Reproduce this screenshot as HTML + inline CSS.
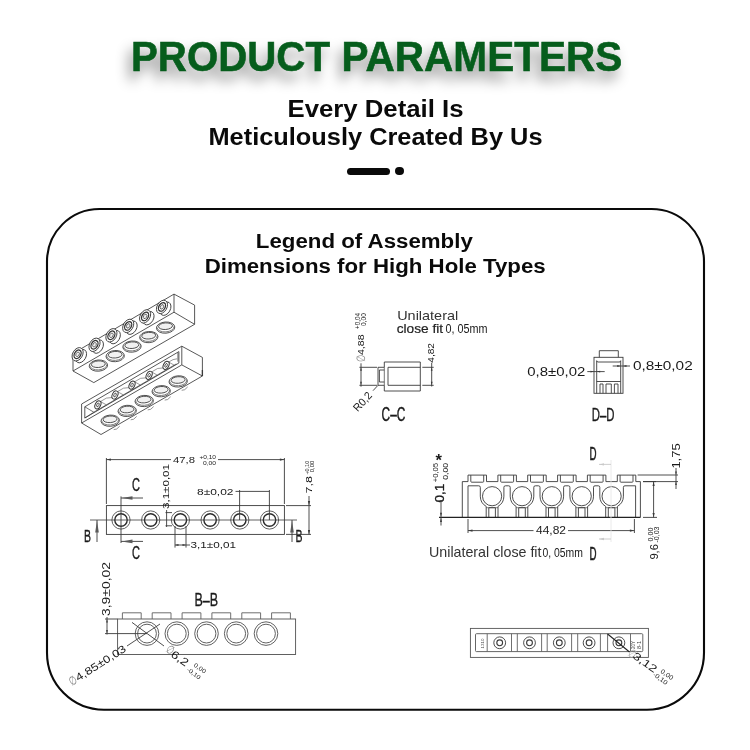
<!DOCTYPE html>
<html><head><meta charset="utf-8">
<style>
html,body{margin:0;padding:0;background:#fff;}
body{width:750px;height:750px;position:relative;overflow:hidden;font-family:"Liberation Sans",sans-serif;}
#dash{position:absolute;left:346.7px;top:167.8px;width:43.2px;height:7px;border-radius:3.5px;background:#0a0a0a;}
#dot{position:absolute;left:395.2px;top:166.8px;width:8.6px;height:8.6px;border-radius:50%;background:#0a0a0a;}
svg{position:absolute;left:0;top:0;will-change:transform;}
</style></head><body>
<div id="dash"></div><div id="dot"></div>
<svg width="750" height="750" viewBox="0 0 750 750" font-family="Liberation Sans, sans-serif">
<path d="M99.5 209 H651.5 A52.5 52.5 0 0 1 704 261.5 V652.8 A57 57 0 0 1 647 709.8 H104 A57 57 0 0 1 47 652.8 V261.5 A52.5 52.5 0 0 1 99.5 209 Z" fill="none" stroke="#0a0a0a" stroke-width="2.1"/>
<g font-weight="bold" fill="#065d1c" stroke="#065d1c" stroke-width="0.6" font-size="42" style="filter:drop-shadow(-4px 9px 6.5px rgba(0,0,0,0.42))">
<text id="w1" x="131" y="71.3" textLength="199" lengthAdjust="spacingAndGlyphs">PRODUCT</text>
<text id="w2" x="341.5" y="71.3" textLength="280.8" lengthAdjust="spacingAndGlyphs">PARAMETERS</text>
</g>
<g font-weight="bold" fill="#0a0a0a">
<text id="t1" x="287.5" y="117" font-size="23" textLength="176" lengthAdjust="spacingAndGlyphs">Every Detail Is</text>
<text id="t2" x="208.5" y="144.8" font-size="23" textLength="334" lengthAdjust="spacingAndGlyphs">Meticulously Created By Us</text>
<text id="t3" x="255.8" y="248" font-size="19.5" textLength="217" lengthAdjust="spacingAndGlyphs">Legend of Assembly</text>
<text id="t4" x="204.7" y="272.5" font-size="19.5" textLength="341" lengthAdjust="spacingAndGlyphs">Dimensions for High Hole Types</text>
</g>
<path d="M73.0 353.5 L174.0 294.1 L194.6 305.1 L194.6 324.3 L93.8 382.6 L73.0 371.0 Z" fill="none" stroke="#3a3a3a" stroke-width="0.85" stroke-linejoin="round"/>
<path d="M174.0 294.1 L174.0 312.2 L73.0 371.0" fill="none" stroke="#3a3a3a" stroke-width="0.85" stroke-linejoin="round"/>
<path d="M174.0 312.2 L194.6 324.3" fill="none" stroke="#3a3a3a" stroke-width="0.85" stroke-linejoin="round"/>
<ellipse cx="81.0" cy="356.1" rx="7.2" ry="4.9" transform="rotate(-60 81.0 356.1)" fill="#fff" stroke="#3a3a3a" stroke-width="0.85"/>
<ellipse cx="77.6" cy="354.3" rx="7.2" ry="4.9" transform="rotate(-60 77.6 354.3)" fill="#fff" stroke="#3a3a3a" stroke-width="0.85"/>
<ellipse cx="77.6" cy="354.3" rx="4.6" ry="3.1" transform="rotate(-60 77.6 354.3)" fill="none" stroke="#333" stroke-width="1.3"/>
<ellipse cx="77.6" cy="354.3" rx="2.4" ry="1.6" transform="rotate(-60 77.6 354.3)" fill="#eee" stroke="#555" stroke-width="0.8"/>
<ellipse cx="97.9" cy="346.6" rx="7.2" ry="4.9" transform="rotate(-60 97.9 346.6)" fill="#fff" stroke="#3a3a3a" stroke-width="0.85"/>
<ellipse cx="94.5" cy="344.8" rx="7.2" ry="4.9" transform="rotate(-60 94.5 344.8)" fill="#fff" stroke="#3a3a3a" stroke-width="0.85"/>
<ellipse cx="94.5" cy="344.8" rx="4.6" ry="3.1" transform="rotate(-60 94.5 344.8)" fill="none" stroke="#333" stroke-width="1.3"/>
<ellipse cx="94.5" cy="344.8" rx="2.4" ry="1.6" transform="rotate(-60 94.5 344.8)" fill="#eee" stroke="#555" stroke-width="0.8"/>
<ellipse cx="114.8" cy="337.1" rx="7.2" ry="4.9" transform="rotate(-60 114.8 337.1)" fill="#fff" stroke="#3a3a3a" stroke-width="0.85"/>
<ellipse cx="111.4" cy="335.3" rx="7.2" ry="4.9" transform="rotate(-60 111.4 335.3)" fill="#fff" stroke="#3a3a3a" stroke-width="0.85"/>
<ellipse cx="111.4" cy="335.3" rx="4.6" ry="3.1" transform="rotate(-60 111.4 335.3)" fill="none" stroke="#333" stroke-width="1.3"/>
<ellipse cx="111.4" cy="335.3" rx="2.4" ry="1.6" transform="rotate(-60 111.4 335.3)" fill="#eee" stroke="#555" stroke-width="0.8"/>
<ellipse cx="131.6" cy="327.7" rx="7.2" ry="4.9" transform="rotate(-60 131.6 327.7)" fill="#fff" stroke="#3a3a3a" stroke-width="0.85"/>
<ellipse cx="128.2" cy="325.9" rx="7.2" ry="4.9" transform="rotate(-60 128.2 325.9)" fill="#fff" stroke="#3a3a3a" stroke-width="0.85"/>
<ellipse cx="128.2" cy="325.9" rx="4.6" ry="3.1" transform="rotate(-60 128.2 325.9)" fill="none" stroke="#333" stroke-width="1.3"/>
<ellipse cx="128.2" cy="325.9" rx="2.4" ry="1.6" transform="rotate(-60 128.2 325.9)" fill="#eee" stroke="#555" stroke-width="0.8"/>
<ellipse cx="148.5" cy="318.2" rx="7.2" ry="4.9" transform="rotate(-60 148.5 318.2)" fill="#fff" stroke="#3a3a3a" stroke-width="0.85"/>
<ellipse cx="145.1" cy="316.4" rx="7.2" ry="4.9" transform="rotate(-60 145.1 316.4)" fill="#fff" stroke="#3a3a3a" stroke-width="0.85"/>
<ellipse cx="145.1" cy="316.4" rx="4.6" ry="3.1" transform="rotate(-60 145.1 316.4)" fill="none" stroke="#333" stroke-width="1.3"/>
<ellipse cx="145.1" cy="316.4" rx="2.4" ry="1.6" transform="rotate(-60 145.1 316.4)" fill="#eee" stroke="#555" stroke-width="0.8"/>
<ellipse cx="165.4" cy="308.7" rx="7.2" ry="4.9" transform="rotate(-60 165.4 308.7)" fill="#fff" stroke="#3a3a3a" stroke-width="0.85"/>
<ellipse cx="162.0" cy="306.9" rx="7.2" ry="4.9" transform="rotate(-60 162.0 306.9)" fill="#fff" stroke="#3a3a3a" stroke-width="0.85"/>
<ellipse cx="162.0" cy="306.9" rx="4.6" ry="3.1" transform="rotate(-60 162.0 306.9)" fill="none" stroke="#333" stroke-width="1.3"/>
<ellipse cx="162.0" cy="306.9" rx="2.4" ry="1.6" transform="rotate(-60 162.0 306.9)" fill="#eee" stroke="#555" stroke-width="0.8"/>
<g transform="rotate(-4 98.4 365.6)"><ellipse cx="98.4" cy="365.6" rx="9.2" ry="5.6" fill="none" stroke="#3a3a3a" stroke-width="0.85"/><path d="M89.9 365.0 A8.5 4.9 0 0 0 106.9 365.0" fill="none" stroke="#555" stroke-width="0.75"/><ellipse cx="98.4" cy="364.2" rx="7.0" ry="3.3" fill="#f1f1f1" stroke="#3a3a3a" stroke-width="0.85"/></g>
<g transform="rotate(-4 115.2 356.1)"><ellipse cx="115.2" cy="356.1" rx="9.2" ry="5.6" fill="none" stroke="#3a3a3a" stroke-width="0.85"/><path d="M106.7 355.5 A8.5 4.9 0 0 0 123.7 355.5" fill="none" stroke="#555" stroke-width="0.75"/><ellipse cx="115.2" cy="354.7" rx="7.0" ry="3.3" fill="#f1f1f1" stroke="#3a3a3a" stroke-width="0.85"/></g>
<g transform="rotate(-4 132.0 346.6)"><ellipse cx="132.0" cy="346.6" rx="9.2" ry="5.6" fill="none" stroke="#3a3a3a" stroke-width="0.85"/><path d="M123.5 346.0 A8.5 4.9 0 0 0 140.5 346.0" fill="none" stroke="#555" stroke-width="0.75"/><ellipse cx="132.0" cy="345.2" rx="7.0" ry="3.3" fill="#f1f1f1" stroke="#3a3a3a" stroke-width="0.85"/></g>
<g transform="rotate(-4 148.8 337.1)"><ellipse cx="148.8" cy="337.1" rx="9.2" ry="5.6" fill="none" stroke="#3a3a3a" stroke-width="0.85"/><path d="M140.3 336.5 A8.5 4.9 0 0 0 157.3 336.5" fill="none" stroke="#555" stroke-width="0.75"/><ellipse cx="148.8" cy="335.7" rx="7.0" ry="3.3" fill="#f1f1f1" stroke="#3a3a3a" stroke-width="0.85"/></g>
<g transform="rotate(-4 165.6 327.6)"><ellipse cx="165.6" cy="327.6" rx="9.2" ry="5.6" fill="none" stroke="#3a3a3a" stroke-width="0.85"/><path d="M157.1 327.0 A8.5 4.9 0 0 0 174.1 327.0" fill="none" stroke="#555" stroke-width="0.75"/><ellipse cx="165.6" cy="326.2" rx="7.0" ry="3.3" fill="#f1f1f1" stroke="#3a3a3a" stroke-width="0.85"/></g>
<path d="M81.6 404.0 L181.8 346.2 L202.4 357.4 L202.4 376.0 L101.0 434.5 L81.6 423.0 Z" fill="none" stroke="#3a3a3a" stroke-width="0.85" stroke-linejoin="round"/>
<path d="M181.8 346.2 L181.8 364.9 L81.6 423.0" fill="none" stroke="#3a3a3a" stroke-width="0.85" stroke-linejoin="round"/>
<path d="M181.8 364.9 L202.4 376.0" fill="none" stroke="#3a3a3a" stroke-width="0.85" stroke-linejoin="round"/>
<path d="M84.8 406.8 L178.9 351.6 L178.9 363.0 L84.8 418.0 Z" fill="none" stroke="#3a3a3a" stroke-width="0.85" stroke-linejoin="round"/>
<path d="M84.8 406.8 L93.8 412.2 L84.8 418.0" fill="none" stroke="#3a3a3a" stroke-width="0.7" stroke-linejoin="round"/>
<path d="M93.8 412.2 L176.3 363.9" fill="none" stroke="#3a3a3a" stroke-width="0.7" stroke-linejoin="round"/>
<path d="M177.9 352.8 L177.9 361.6" fill="none" stroke="#3a3a3a" stroke-width="0.7" stroke-linejoin="round"/>
<path d="M100.5 401.5 Q106.4 396.7 112.3 397.5" fill="none" stroke="#555" stroke-width="0.6" stroke-linejoin="round"/>
<path d="M100.7 401.7 L106.1 404.7" fill="none" stroke="#555" stroke-width="0.6" stroke-linejoin="round"/>
<ellipse cx="97.9" cy="404.9" rx="4.3" ry="2.7" transform="rotate(-65 97.9 404.9)" fill="#fff" stroke="#3a3a3a" stroke-width="1.0"/>
<ellipse cx="97.9" cy="404.9" rx="2.0" ry="1.1" transform="rotate(-65 97.9 404.9)" fill="none" stroke="#3a3a3a" stroke-width="0.8"/>
<path d="M117.5 391.6 Q123.5 386.8 129.3 387.6" fill="none" stroke="#555" stroke-width="0.6" stroke-linejoin="round"/>
<path d="M117.8 391.8 L123.2 394.8" fill="none" stroke="#555" stroke-width="0.6" stroke-linejoin="round"/>
<ellipse cx="115.0" cy="395.0" rx="4.3" ry="2.7" transform="rotate(-65 115.0 395.0)" fill="#fff" stroke="#3a3a3a" stroke-width="1.0"/>
<ellipse cx="115.0" cy="395.0" rx="2.0" ry="1.1" transform="rotate(-65 115.0 395.0)" fill="none" stroke="#3a3a3a" stroke-width="0.8"/>
<path d="M134.6 381.8 Q140.5 376.9 146.4 377.8" fill="none" stroke="#555" stroke-width="0.6" stroke-linejoin="round"/>
<path d="M134.8 381.9 L140.2 384.9" fill="none" stroke="#555" stroke-width="0.6" stroke-linejoin="round"/>
<ellipse cx="132.0" cy="385.1" rx="4.3" ry="2.7" transform="rotate(-65 132.0 385.1)" fill="#fff" stroke="#3a3a3a" stroke-width="1.0"/>
<ellipse cx="132.0" cy="385.1" rx="2.0" ry="1.1" transform="rotate(-65 132.0 385.1)" fill="none" stroke="#3a3a3a" stroke-width="0.8"/>
<path d="M151.7 371.9 Q157.6 367.1 163.5 367.9" fill="none" stroke="#555" stroke-width="0.6" stroke-linejoin="round"/>
<path d="M151.9 372.1 L157.2 375.1" fill="none" stroke="#555" stroke-width="0.6" stroke-linejoin="round"/>
<ellipse cx="149.1" cy="375.3" rx="4.3" ry="2.7" transform="rotate(-65 149.1 375.3)" fill="#fff" stroke="#3a3a3a" stroke-width="1.0"/>
<ellipse cx="149.1" cy="375.3" rx="2.0" ry="1.1" transform="rotate(-65 149.1 375.3)" fill="none" stroke="#3a3a3a" stroke-width="0.8"/>
<path d="M168.7 362.0 Q173.1 358.9 177.1 358.8" fill="none" stroke="#555" stroke-width="0.6" stroke-linejoin="round"/>
<path d="M168.9 362.2 L174.3 365.2" fill="none" stroke="#555" stroke-width="0.6" stroke-linejoin="round"/>
<ellipse cx="166.1" cy="365.4" rx="4.3" ry="2.7" transform="rotate(-65 166.1 365.4)" fill="#fff" stroke="#3a3a3a" stroke-width="1.0"/>
<ellipse cx="166.1" cy="365.4" rx="2.0" ry="1.1" transform="rotate(-65 166.1 365.4)" fill="none" stroke="#3a3a3a" stroke-width="0.8"/>
<g transform="rotate(-4 110.2 420.7)"><ellipse cx="110.2" cy="420.7" rx="9.2" ry="5.6" fill="none" stroke="#3a3a3a" stroke-width="0.85"/><path d="M101.7 420.1 A8.5 4.9 0 0 0 118.7 420.1" fill="none" stroke="#555" stroke-width="0.75"/><ellipse cx="110.2" cy="419.3" rx="7.0" ry="3.3" fill="#f1f1f1" stroke="#3a3a3a" stroke-width="0.85"/></g>
<path d="M113.7 429.6 Q116.7 430.1 119.7 426.2" fill="none" stroke="#777" stroke-width="0.8" stroke-linejoin="round"/>
<g transform="rotate(-4 127.2 410.9)"><ellipse cx="127.2" cy="410.9" rx="9.2" ry="5.6" fill="none" stroke="#3a3a3a" stroke-width="0.85"/><path d="M118.7 410.3 A8.5 4.9 0 0 0 135.7 410.3" fill="none" stroke="#555" stroke-width="0.75"/><ellipse cx="127.2" cy="409.5" rx="7.0" ry="3.3" fill="#f1f1f1" stroke="#3a3a3a" stroke-width="0.85"/></g>
<path d="M130.7 419.8 Q133.7 420.3 136.7 416.4" fill="none" stroke="#777" stroke-width="0.8" stroke-linejoin="round"/>
<g transform="rotate(-4 144.2 401.0)"><ellipse cx="144.2" cy="401.0" rx="9.2" ry="5.6" fill="none" stroke="#3a3a3a" stroke-width="0.85"/><path d="M135.7 400.4 A8.5 4.9 0 0 0 152.7 400.4" fill="none" stroke="#555" stroke-width="0.75"/><ellipse cx="144.2" cy="399.6" rx="7.0" ry="3.3" fill="#f1f1f1" stroke="#3a3a3a" stroke-width="0.85"/></g>
<path d="M147.7 409.9 Q150.7 410.4 153.7 406.5" fill="none" stroke="#777" stroke-width="0.8" stroke-linejoin="round"/>
<g transform="rotate(-4 161.2 391.2)"><ellipse cx="161.2" cy="391.2" rx="9.2" ry="5.6" fill="none" stroke="#3a3a3a" stroke-width="0.85"/><path d="M152.7 390.6 A8.5 4.9 0 0 0 169.7 390.6" fill="none" stroke="#555" stroke-width="0.75"/><ellipse cx="161.2" cy="389.8" rx="7.0" ry="3.3" fill="#f1f1f1" stroke="#3a3a3a" stroke-width="0.85"/></g>
<path d="M164.7 400.1 Q167.7 400.6 170.7 396.7" fill="none" stroke="#777" stroke-width="0.8" stroke-linejoin="round"/>
<g transform="rotate(-4 178.2 381.4)"><ellipse cx="178.2" cy="381.4" rx="9.2" ry="5.6" fill="none" stroke="#3a3a3a" stroke-width="0.85"/><path d="M169.7 380.8 A8.5 4.9 0 0 0 186.7 380.8" fill="none" stroke="#555" stroke-width="0.75"/><ellipse cx="178.2" cy="380.0" rx="7.0" ry="3.3" fill="#f1f1f1" stroke="#3a3a3a" stroke-width="0.85"/></g>
<path d="M181.7 390.3 Q184.7 390.8 187.7 386.9" fill="none" stroke="#777" stroke-width="0.8" stroke-linejoin="round"/>
<line x1="202.4" y1="370.0" x2="202.4" y2="376.0" stroke="#3a3a3a" stroke-width="1.3"/>
<path d="M384.3 362 H420.3 V391 H384.3 V385.3 H378 V367.3 H384.3 Z" fill="none" stroke="#3a3a3a" stroke-width="0.9" stroke-linejoin="round"/>
<path d="M420.3 367.3 H388 V385.3 H420.3" fill="none" stroke="#3a3a3a" stroke-width="0.9" stroke-linejoin="round"/>
<path d="M384.3 370 H379.4 V382 H384.3" fill="none" stroke="#3a3a3a" stroke-width="0.9" stroke-linejoin="round"/>
<line x1="384.3" y1="367.3" x2="384.3" y2="385.3" stroke="#3a3a3a" stroke-width="0.7"/>
<line x1="361.0" y1="363.3" x2="361.0" y2="386.7" stroke="#3a3a3a" stroke-width="0.9"/>
<line x1="359.4" y1="367.3" x2="377.0" y2="367.3" stroke="#3a3a3a" stroke-width="0.9"/>
<line x1="359.4" y1="385.3" x2="377.0" y2="385.3" stroke="#3a3a3a" stroke-width="0.9"/>
<path d="M361.0 367.3 L360.1 370.8 L361.9 370.8 Z" fill="#3a3a3a" stroke="none"/>
<path d="M361.0 385.3 L360.1 381.8 L361.9 381.8 Z" fill="#3a3a3a" stroke="none"/>
<line x1="431.7" y1="362.7" x2="431.7" y2="386.5" stroke="#3a3a3a" stroke-width="0.9"/>
<line x1="422.3" y1="367.3" x2="433.7" y2="367.3" stroke="#3a3a3a" stroke-width="0.9"/>
<line x1="422.3" y1="385.3" x2="433.7" y2="385.3" stroke="#3a3a3a" stroke-width="0.9"/>
<path d="M431.7 367.3 L430.8 370.8 L432.6 370.8 Z" fill="#3a3a3a" stroke="none"/>
<path d="M431.7 385.3 L430.8 381.8 L432.6 381.8 Z" fill="#3a3a3a" stroke="none"/>
<text x="364.6" y="362.3" font-size="12" fill="#888" font-weight="normal" text-anchor="start" textLength="7.0" lengthAdjust="spacingAndGlyphs" transform="rotate(-90 364.6 362.3)">∅</text>
<text x="364.3" y="355.0" font-size="9.8" fill="#1a1a1a" font-weight="normal" text-anchor="start" textLength="20.5" lengthAdjust="spacingAndGlyphs" transform="rotate(-90 364.3 355.0)">4,88</text>
<text x="359.9" y="329.0" font-size="6.3" fill="#1a1a1a" font-weight="normal" text-anchor="start" textLength="16.0" lengthAdjust="spacingAndGlyphs" transform="rotate(-90 359.9 329.0)">+0,04</text>
<text x="366.3" y="326.0" font-size="6.3" fill="#1a1a1a" font-weight="normal" text-anchor="start" textLength="13.0" lengthAdjust="spacingAndGlyphs" transform="rotate(-90 366.3 326.0)">0,00</text>
<text x="434.0" y="362.7" font-size="9" fill="#1a1a1a" font-weight="normal" text-anchor="start" textLength="19.7" lengthAdjust="spacingAndGlyphs" transform="rotate(-90 434.0 362.7)">4,82</text>
<line x1="378.0" y1="385.3" x2="373.0" y2="390.7" stroke="#3a3a3a" stroke-width="0.9"/>
<text x="357.8" y="412.2" font-size="11" fill="#1a1a1a" font-weight="normal" text-anchor="start" textLength="22.0" lengthAdjust="spacingAndGlyphs" transform="rotate(-47 357.8 412.2)">R0,2</text>
<text x="381.6" y="420.7" font-size="19.5" fill="#1a1a1a" font-weight="normal" text-anchor="start" textLength="23.8" lengthAdjust="spacingAndGlyphs" stroke="#1a1a1a" stroke-width="0.4">C–C</text>
<text x="397.2" y="319.5" font-size="13" fill="#333" font-weight="normal" text-anchor="start" textLength="61.0" lengthAdjust="spacingAndGlyphs">Unilateral</text>
<text x="396.7" y="332.6" font-size="13" fill="#222" font-weight="normal" text-anchor="start" textLength="46.4" lengthAdjust="spacingAndGlyphs" stroke="#222" stroke-width="0.2">close fit</text>
<text x="445.6" y="332.6" font-size="12.3" fill="#1a1a1a" font-weight="normal" text-anchor="start" textLength="42.0" lengthAdjust="spacingAndGlyphs">0, 05mm</text>
<rect x="594.0" y="357.3" width="29.0" height="36.0" rx="0" fill="none" stroke="#3a3a3a" stroke-width="0.9"/>
<path d="M599.3 357.3 V350.7 H618.3 V357.3" fill="none" stroke="#3a3a3a" stroke-width="0.9" stroke-linejoin="round"/>
<path d="M596.7 393.3 V360.7 L597.5 362 H619.9 L620.7 360.7 V393.3" fill="none" stroke="#3a3a3a" stroke-width="0.9" stroke-linejoin="round"/>
<line x1="596.7" y1="381.5" x2="620.7" y2="381.5" stroke="#3a3a3a" stroke-width="0.9"/>
<path d="M600 393.3 V384 H603 V393.3" fill="none" stroke="#3a3a3a" stroke-width="0.9" stroke-linejoin="round"/>
<path d="M606 393.3 V384 H611.3 V393.3" fill="none" stroke="#3a3a3a" stroke-width="0.9" stroke-linejoin="round"/>
<path d="M614.4 393.3 V384 H618 V393.3" fill="none" stroke="#3a3a3a" stroke-width="0.9" stroke-linejoin="round"/>
<line x1="587.3" y1="371.6" x2="604.7" y2="371.6" stroke="#3a3a3a" stroke-width="0.9"/>
<path d="M594.0 371.6 L590.5 370.7 L590.5 372.5 Z" fill="#3a3a3a" stroke="none"/>
<path d="M596.7 371.6 L600.2 370.7 L600.2 372.5 Z" fill="#3a3a3a" stroke="none"/>
<line x1="612.7" y1="366.0" x2="630.0" y2="366.0" stroke="#3a3a3a" stroke-width="0.9"/>
<path d="M620.7 366.0 L617.2 365.1 L617.2 366.9 Z" fill="#3a3a3a" stroke="none"/>
<path d="M623.0 366.0 L626.5 365.1 L626.5 366.9 Z" fill="#3a3a3a" stroke="none"/>
<text x="527.3" y="376.0" font-size="12" fill="#1a1a1a" font-weight="normal" text-anchor="start" textLength="58.0" lengthAdjust="spacingAndGlyphs">0,8±0,02</text>
<text x="633.0" y="370.0" font-size="12" fill="#1a1a1a" font-weight="normal" text-anchor="start" textLength="59.7" lengthAdjust="spacingAndGlyphs">0,8±0,02</text>
<text x="591.7" y="420.7" font-size="18.5" fill="#1a1a1a" font-weight="normal" text-anchor="start" textLength="22.7" lengthAdjust="spacingAndGlyphs" stroke="#1a1a1a" stroke-width="0.35">D–D</text>
<rect x="106.4" y="505.6" width="178.0" height="28.8" rx="0" fill="none" stroke="#3a3a3a" stroke-width="0.9"/>
<circle cx="121.0" cy="520.0" r="9.1" fill="none" stroke="#3a3a3a" stroke-width="0.8"/>
<circle cx="121.0" cy="520.0" r="6.2" fill="none" stroke="#2a2a2a" stroke-width="1.4"/>
<circle cx="150.7" cy="520.0" r="9.1" fill="none" stroke="#3a3a3a" stroke-width="0.8"/>
<circle cx="150.7" cy="520.0" r="6.2" fill="none" stroke="#2a2a2a" stroke-width="1.4"/>
<circle cx="180.4" cy="520.0" r="9.1" fill="none" stroke="#3a3a3a" stroke-width="0.8"/>
<circle cx="180.4" cy="520.0" r="6.2" fill="none" stroke="#2a2a2a" stroke-width="1.4"/>
<circle cx="210.1" cy="520.0" r="9.1" fill="none" stroke="#3a3a3a" stroke-width="0.8"/>
<circle cx="210.1" cy="520.0" r="6.2" fill="none" stroke="#2a2a2a" stroke-width="1.4"/>
<circle cx="239.8" cy="520.0" r="9.1" fill="none" stroke="#3a3a3a" stroke-width="0.8"/>
<circle cx="239.8" cy="520.0" r="6.2" fill="none" stroke="#2a2a2a" stroke-width="1.4"/>
<circle cx="269.5" cy="520.0" r="9.1" fill="none" stroke="#3a3a3a" stroke-width="0.8"/>
<circle cx="269.5" cy="520.0" r="6.2" fill="none" stroke="#2a2a2a" stroke-width="1.4"/>
<line x1="90.0" y1="520.0" x2="297.0" y2="520.0" stroke="#3a3a3a" stroke-width="0.8"/>
<line x1="106.4" y1="458.0" x2="106.4" y2="504.0" stroke="#3a3a3a" stroke-width="0.9"/>
<line x1="284.4" y1="458.0" x2="284.4" y2="504.0" stroke="#3a3a3a" stroke-width="0.9"/>
<line x1="106.4" y1="459.6" x2="171.0" y2="459.6" stroke="#3a3a3a" stroke-width="0.9"/>
<line x1="218.0" y1="459.6" x2="284.4" y2="459.6" stroke="#3a3a3a" stroke-width="0.9"/>
<path d="M106.4 459.6 L110.9 458.5 L110.9 460.7 Z" fill="#3a3a3a" stroke="none"/>
<path d="M284.4 459.6 L279.9 458.5 L279.9 460.7 Z" fill="#3a3a3a" stroke="none"/>
<text x="173.0" y="463.3" font-size="9.2" fill="#1a1a1a" font-weight="normal" text-anchor="start" textLength="22.0" lengthAdjust="spacingAndGlyphs">47,8</text>
<text x="199.5" y="458.8" font-size="6" fill="#1a1a1a" font-weight="normal" text-anchor="start" textLength="16.5" lengthAdjust="spacingAndGlyphs">+0,10</text>
<text x="203.0" y="465.2" font-size="6" fill="#1a1a1a" font-weight="normal" text-anchor="start" textLength="13.0" lengthAdjust="spacingAndGlyphs">0,00</text>
<line x1="121.0" y1="496.4" x2="121.0" y2="543.0" stroke="#3a3a3a" stroke-width="0.9"/>
<line x1="121.0" y1="498.0" x2="143.0" y2="498.0" stroke="#3a3a3a" stroke-width="0.9"/>
<line x1="121.0" y1="541.4" x2="143.0" y2="541.4" stroke="#3a3a3a" stroke-width="0.9"/>
<path d="M121.5 498.0 L132.5 496.2 L132.5 499.8 Z" fill="#5a5a5a" stroke="none"/>
<path d="M121.5 541.4 L132.5 539.6 L132.5 543.2 Z" fill="#5a5a5a" stroke="none"/>
<text x="132.0" y="491.0" font-size="18" fill="#1a1a1a" font-weight="normal" text-anchor="start" textLength="8.0" lengthAdjust="spacingAndGlyphs" stroke="#1a1a1a" stroke-width="0.35">C</text>
<text x="132.0" y="559.0" font-size="18" fill="#1a1a1a" font-weight="normal" text-anchor="start" textLength="8.0" lengthAdjust="spacingAndGlyphs" stroke="#1a1a1a" stroke-width="0.35">C</text>
<line x1="97.0" y1="520.0" x2="97.0" y2="542.0" stroke="#3a3a3a" stroke-width="0.9"/>
<path d="M97.0 520.5 L95.2 532.5 L98.8 532.5 Z" fill="#5a5a5a" stroke="none"/>
<text x="84.0" y="541.5" font-size="17" fill="#1a1a1a" font-weight="normal" text-anchor="start" textLength="7.0" lengthAdjust="spacingAndGlyphs" stroke="#1a1a1a" stroke-width="0.35">B</text>
<line x1="292.0" y1="520.0" x2="292.0" y2="542.0" stroke="#3a3a3a" stroke-width="0.9"/>
<path d="M292.0 520.5 L290.2 532.5 L293.8 532.5 Z" fill="#5a5a5a" stroke="none"/>
<text x="295.6" y="541.5" font-size="17" fill="#1a1a1a" font-weight="normal" text-anchor="start" textLength="7.0" lengthAdjust="spacingAndGlyphs" stroke="#1a1a1a" stroke-width="0.35">B</text>
<text x="169.2" y="509.0" font-size="9.7" fill="#1a1a1a" font-weight="normal" text-anchor="start" textLength="45.0" lengthAdjust="spacingAndGlyphs" transform="rotate(-90 169.2 509.0)">3,1±0,01</text>
<line x1="166.6" y1="510.0" x2="166.6" y2="527.0" stroke="#3a3a3a" stroke-width="0.9"/>
<line x1="165.5" y1="512.6" x2="172.0" y2="512.6" stroke="#3a3a3a" stroke-width="0.9"/>
<line x1="165.5" y1="525.8" x2="172.0" y2="525.8" stroke="#3a3a3a" stroke-width="0.9"/>
<line x1="175.0" y1="526.0" x2="175.0" y2="547.6" stroke="#3a3a3a" stroke-width="0.9"/>
<line x1="186.0" y1="526.0" x2="186.0" y2="547.6" stroke="#3a3a3a" stroke-width="0.9"/>
<line x1="175.0" y1="545.0" x2="190.0" y2="545.0" stroke="#3a3a3a" stroke-width="0.9"/>
<path d="M175.0 545.0 L178.5 544.1 L178.5 545.9 Z" fill="#3a3a3a" stroke="none"/>
<path d="M186.0 545.0 L182.5 544.1 L182.5 545.9 Z" fill="#3a3a3a" stroke="none"/>
<text x="190.5" y="548.4" font-size="9.5" fill="#1a1a1a" font-weight="normal" text-anchor="start" textLength="45.5" lengthAdjust="spacingAndGlyphs">3,1±0,01</text>
<text x="197.0" y="495.0" font-size="9.3" fill="#1a1a1a" font-weight="normal" text-anchor="start" textLength="36.5" lengthAdjust="spacingAndGlyphs">8±0,02</text>
<line x1="235.5" y1="491.4" x2="269.4" y2="491.4" stroke="#3a3a3a" stroke-width="0.9"/>
<line x1="239.6" y1="490.0" x2="239.6" y2="520.0" stroke="#3a3a3a" stroke-width="0.9"/>
<line x1="269.4" y1="490.0" x2="269.4" y2="520.0" stroke="#3a3a3a" stroke-width="0.9"/>
<line x1="286.0" y1="505.6" x2="311.0" y2="505.6" stroke="#3a3a3a" stroke-width="0.9"/>
<line x1="286.0" y1="534.4" x2="311.0" y2="534.4" stroke="#3a3a3a" stroke-width="0.9"/>
<line x1="309.0" y1="496.0" x2="309.0" y2="534.4" stroke="#3a3a3a" stroke-width="0.9"/>
<path d="M309.0 505.6 L307.9 501.1 L310.1 501.1 Z" fill="#3a3a3a" stroke="none"/>
<path d="M309.0 534.4 L307.9 529.9 L310.1 529.9 Z" fill="#3a3a3a" stroke="none"/>
<text x="311.8" y="493.6" font-size="9.7" fill="#1a1a1a" font-weight="normal" text-anchor="start" textLength="17.5" lengthAdjust="spacingAndGlyphs" transform="rotate(-90 311.8 493.6)">7,8</text>
<text x="308.7" y="474.6" font-size="6" fill="#1a1a1a" font-weight="normal" text-anchor="start" textLength="13.8" lengthAdjust="spacingAndGlyphs" transform="rotate(-90 308.7 474.6)">+0,10</text>
<text x="314.0" y="472.2" font-size="6" fill="#1a1a1a" font-weight="normal" text-anchor="start" textLength="11.4" lengthAdjust="spacingAndGlyphs" transform="rotate(-90 314.0 472.2)">0,00</text>
<rect x="117.6" y="619.0" width="178.0" height="35.5" rx="0" fill="none" stroke="#505050" stroke-width="0.9"/>
<path d="M122.4 619 V612.8 H141.2 V619" fill="none" stroke="#606060" stroke-width="0.9" stroke-linejoin="round"/>
<path d="M152.2 619 V612.8 H171.0 V619" fill="none" stroke="#606060" stroke-width="0.9" stroke-linejoin="round"/>
<path d="M182.1 619 V612.8 H200.9 V619" fill="none" stroke="#606060" stroke-width="0.9" stroke-linejoin="round"/>
<path d="M211.9 619 V612.8 H230.7 V619" fill="none" stroke="#606060" stroke-width="0.9" stroke-linejoin="round"/>
<path d="M241.8 619 V612.8 H260.6 V619" fill="none" stroke="#606060" stroke-width="0.9" stroke-linejoin="round"/>
<path d="M271.6 619 V612.8 H290.4 V619" fill="none" stroke="#606060" stroke-width="0.9" stroke-linejoin="round"/>
<circle cx="147.0" cy="633.6" r="11.8" fill="none" stroke="#505050" stroke-width="0.9"/>
<circle cx="147.0" cy="633.6" r="9.4" fill="none" stroke="#505050" stroke-width="0.9"/>
<circle cx="176.8" cy="633.6" r="11.8" fill="none" stroke="#505050" stroke-width="0.9"/>
<circle cx="176.8" cy="633.6" r="9.4" fill="none" stroke="#505050" stroke-width="0.9"/>
<circle cx="206.5" cy="633.6" r="11.8" fill="none" stroke="#505050" stroke-width="0.9"/>
<circle cx="206.5" cy="633.6" r="9.4" fill="none" stroke="#505050" stroke-width="0.9"/>
<circle cx="236.2" cy="633.6" r="11.8" fill="none" stroke="#505050" stroke-width="0.9"/>
<circle cx="236.2" cy="633.6" r="9.4" fill="none" stroke="#505050" stroke-width="0.9"/>
<circle cx="266.0" cy="633.6" r="11.8" fill="none" stroke="#505050" stroke-width="0.9"/>
<circle cx="266.0" cy="633.6" r="9.4" fill="none" stroke="#505050" stroke-width="0.9"/>
<text x="194.4" y="605.6" font-size="19" fill="#1a1a1a" font-weight="normal" text-anchor="start" textLength="23.6" lengthAdjust="spacingAndGlyphs" stroke="#1a1a1a" stroke-width="0.35">B–B</text>
<line x1="107.0" y1="617.0" x2="107.0" y2="634.5" stroke="#3a3a3a" stroke-width="0.9"/>
<line x1="105.0" y1="619.0" x2="117.6" y2="619.0" stroke="#3a3a3a" stroke-width="0.9"/>
<line x1="105.0" y1="633.6" x2="147.0" y2="633.6" stroke="#3a3a3a" stroke-width="0.9"/>
<path d="M107.0 619.0 L106.1 622.5 L107.9 622.5 Z" fill="#3a3a3a" stroke="none"/>
<path d="M107.0 633.6 L106.1 630.1 L107.9 630.1 Z" fill="#3a3a3a" stroke="none"/>
<text x="110.0" y="616.0" font-size="10.5" fill="#1a1a1a" font-weight="normal" text-anchor="start" textLength="54.0" lengthAdjust="spacingAndGlyphs" transform="rotate(-90 110.0 616.0)">3,9±0,02</text>
<line x1="132.0" y1="622.4" x2="164.0" y2="646.0" stroke="#3a3a3a" stroke-width="0.9"/>
<line x1="160.0" y1="624.0" x2="127.0" y2="646.0" stroke="#3a3a3a" stroke-width="0.9"/>
<text x="71.5" y="685.5" font-size="12" fill="#777" font-weight="normal" text-anchor="start" textLength="7.0" lengthAdjust="spacingAndGlyphs" transform="rotate(-32.5 71.5 685.5)">∅</text>
<text x="78.3" y="681.6" font-size="10.5" fill="#1a1a1a" font-weight="normal" text-anchor="start" textLength="57.5" lengthAdjust="spacingAndGlyphs" transform="rotate(-32.5 78.3 681.6)">4,85±0,03</text>
<text x="164.8" y="650.6" font-size="12" fill="#888" font-weight="normal" text-anchor="start" textLength="7.0" lengthAdjust="spacingAndGlyphs" transform="rotate(35 164.8 650.6)">∅</text>
<text x="170.0" y="656.0" font-size="11" fill="#1a1a1a" font-weight="normal" text-anchor="start" textLength="19.0" lengthAdjust="spacingAndGlyphs" transform="rotate(35 170.0 656.0)">6,2</text>
<text x="193.3" y="666.0" font-size="6" fill="#1a1a1a" font-weight="normal" text-anchor="start" textLength="13.5" lengthAdjust="spacingAndGlyphs" transform="rotate(35 193.3 666.0)">0,00</text>
<text x="186.3" y="670.5" font-size="6" fill="#1a1a1a" font-weight="normal" text-anchor="start" textLength="15.5" lengthAdjust="spacingAndGlyphs" transform="rotate(36 186.3 670.5)">-0,10</text>
<path d="M462.3 517.4 V481.6 H468.0 V475.1 H486.5 V481.6 H497.9 V475.1 H516.4 V481.6 H527.7 V475.1 H546.2 V481.6 H557.6 V475.1 H576.1 V481.6 H587.4 V475.1 H605.9 V481.6 H617.3 V475.1 H635.8 V481.6 H640.4 V517.4" fill="none" stroke="#3a3a3a" stroke-width="0.9" stroke-linejoin="round"/>
<path d="M470.8 475.1 V481.4 Q470.8 482.2 471.6 482.2 H482.9 Q483.7 482.2 483.7 481.4 V475.1" fill="none" stroke="#3a3a3a" stroke-width="0.9" stroke-linejoin="round"/>
<path d="M500.7 475.1 V481.4 Q500.7 482.2 501.5 482.2 H512.8 Q513.6 482.2 513.6 481.4 V475.1" fill="none" stroke="#3a3a3a" stroke-width="0.9" stroke-linejoin="round"/>
<path d="M530.5 475.1 V481.4 Q530.5 482.2 531.3 482.2 H542.6 Q543.4 482.2 543.4 481.4 V475.1" fill="none" stroke="#3a3a3a" stroke-width="0.9" stroke-linejoin="round"/>
<path d="M560.4 475.1 V481.4 Q560.4 482.2 561.2 482.2 H572.5 Q573.3 482.2 573.3 481.4 V475.1" fill="none" stroke="#3a3a3a" stroke-width="0.9" stroke-linejoin="round"/>
<path d="M590.2 475.1 V481.4 Q590.2 482.2 591.0 482.2 H602.3 Q603.1 482.2 603.1 481.4 V475.1" fill="none" stroke="#3a3a3a" stroke-width="0.9" stroke-linejoin="round"/>
<path d="M620.1 475.1 V481.4 Q620.1 482.2 620.9 482.2 H632.2 Q633.0 482.2 633.0 481.4 V475.1" fill="none" stroke="#3a3a3a" stroke-width="0.9" stroke-linejoin="round"/>
<path d="M468 517.4 V485.8 H478.8 Q480.3 485.8 480.3 487.3 V496.2 A11.8 11.8 0 0 0 486.2 506.4 V517.4 M498.0 517.4 V506.4 A11.8 11.8 0 0 0 503.9 496.2 V487.3 Q503.9 485.8 505.4 485.8 H508.7 Q510.2 485.8 510.2 487.3 V496.2 A11.8 11.8 0 0 0 516.1 506.4 V517.4 M527.8 517.4 V506.4 A11.8 11.8 0 0 0 533.8 496.2 V487.3 Q533.8 485.8 535.3 485.8 H538.5 Q540.0 485.8 540.0 487.3 V496.2 A11.8 11.8 0 0 0 546.0 506.4 V517.4 M557.7 517.4 V506.4 A11.8 11.8 0 0 0 563.6 496.2 V487.3 Q563.6 485.8 565.1 485.8 H568.4 Q569.9 485.8 569.9 487.3 V496.2 A11.8 11.8 0 0 0 575.9 506.4 V517.4 M587.6 517.4 V506.4 A11.8 11.8 0 0 0 593.5 496.2 V487.3 Q593.5 485.8 595.0 485.8 H598.3 Q599.8 485.8 599.8 487.3 V496.2 A11.8 11.8 0 0 0 605.7 506.4 V517.4 M617.4 517.4 V506.4 A11.8 11.8 0 0 0 623.4 496.2 V487.3 Q623.4 485.8 624.9 485.8 H635.6 V517.4" fill="none" stroke="#3a3a3a" stroke-width="0.9" stroke-linejoin="round"/>
<circle cx="492.1" cy="496.2" r="9.6" fill="none" stroke="#3a3a3a" stroke-width="0.9"/>
<path d="M488.8 517.4 V507.7 H495.4 V517.4" fill="none" stroke="#3a3a3a" stroke-width="0.9" stroke-linejoin="round"/>
<line x1="486.2" y1="507.7" x2="498.0" y2="507.7" stroke="#3a3a3a" stroke-width="0.6"/>
<circle cx="522.0" cy="496.2" r="9.6" fill="none" stroke="#3a3a3a" stroke-width="0.9"/>
<path d="M518.7 517.4 V507.7 H525.3 V517.4" fill="none" stroke="#3a3a3a" stroke-width="0.9" stroke-linejoin="round"/>
<line x1="516.1" y1="507.7" x2="527.8" y2="507.7" stroke="#3a3a3a" stroke-width="0.6"/>
<circle cx="551.8" cy="496.2" r="9.6" fill="none" stroke="#3a3a3a" stroke-width="0.9"/>
<path d="M548.5 517.4 V507.7 H555.1 V517.4" fill="none" stroke="#3a3a3a" stroke-width="0.9" stroke-linejoin="round"/>
<line x1="546.0" y1="507.7" x2="557.7" y2="507.7" stroke="#3a3a3a" stroke-width="0.6"/>
<circle cx="581.7" cy="496.2" r="9.6" fill="none" stroke="#3a3a3a" stroke-width="0.9"/>
<path d="M578.4 517.4 V507.7 H585.0 V517.4" fill="none" stroke="#3a3a3a" stroke-width="0.9" stroke-linejoin="round"/>
<line x1="575.9" y1="507.7" x2="587.6" y2="507.7" stroke="#3a3a3a" stroke-width="0.6"/>
<circle cx="611.6" cy="496.2" r="9.6" fill="none" stroke="#3a3a3a" stroke-width="0.9"/>
<path d="M608.3 517.4 V507.7 H614.9 V517.4" fill="none" stroke="#3a3a3a" stroke-width="0.9" stroke-linejoin="round"/>
<line x1="605.7" y1="507.7" x2="617.4" y2="507.7" stroke="#3a3a3a" stroke-width="0.6"/>
<line x1="439.0" y1="517.4" x2="640.4" y2="517.4" stroke="#222" stroke-width="1.3"/>
<line x1="643.0" y1="517.4" x2="657.0" y2="517.4" stroke="#3a3a3a" stroke-width="0.9"/>
<line x1="643.0" y1="481.6" x2="656.0" y2="481.6" stroke="#3a3a3a" stroke-width="0.9"/>
<line x1="441.0" y1="502.0" x2="441.0" y2="517.4" stroke="#3a3a3a" stroke-width="0.9"/>
<line x1="441.0" y1="517.4" x2="441.0" y2="525.5" stroke="#3a3a3a" stroke-width="0.9"/>
<path d="M441.0 518.0 L440.0 522.0 L442.0 522.0 Z" fill="#3a3a3a" stroke="none"/>
<path d="M441.0 516.8 L440.0 512.8 L442.0 512.8 Z" fill="#3a3a3a" stroke="none"/>
<text x="435.4" y="465.8" font-size="16.5" fill="#1a1a1a" font-weight="bold" text-anchor="start">*</text>
<text x="444.3" y="502.6" font-size="12.6" fill="#1a1a1a" font-weight="normal" text-anchor="start" textLength="19.0" lengthAdjust="spacingAndGlyphs" transform="rotate(-90 444.3 502.6)" stroke="#1a1a1a" stroke-width="0.3">0,1</text>
<text x="437.7" y="482.3" font-size="6.8" fill="#1a1a1a" font-weight="normal" text-anchor="start" textLength="19.3" lengthAdjust="spacingAndGlyphs" transform="rotate(-90 437.7 482.3)">+0,05</text>
<text x="447.9" y="479.8" font-size="6.8" fill="#1a1a1a" font-weight="normal" text-anchor="start" textLength="16.8" lengthAdjust="spacingAndGlyphs" transform="rotate(-90 447.9 479.8)">0,00</text>
<line x1="468.0" y1="519.0" x2="468.0" y2="533.0" stroke="#3a3a3a" stroke-width="0.9"/>
<line x1="634.4" y1="519.0" x2="634.4" y2="533.0" stroke="#3a3a3a" stroke-width="0.9"/>
<line x1="468.0" y1="530.6" x2="533.5" y2="530.6" stroke="#3a3a3a" stroke-width="0.9"/>
<line x1="568.0" y1="530.6" x2="634.4" y2="530.6" stroke="#3a3a3a" stroke-width="0.9"/>
<path d="M468.0 530.6 L472.5 529.5 L472.5 531.7 Z" fill="#3a3a3a" stroke="none"/>
<path d="M634.4 530.6 L629.9 529.5 L629.9 531.7 Z" fill="#3a3a3a" stroke="none"/>
<text x="536.0" y="534.3" font-size="10.3" fill="#1a1a1a" font-weight="normal" text-anchor="start" textLength="30.0" lengthAdjust="spacingAndGlyphs">44,82</text>
<text x="429.0" y="557.2" font-size="14.2" fill="#333" font-weight="normal" text-anchor="start" textLength="112.5" lengthAdjust="spacingAndGlyphs">Unilateral close fit</text>
<text x="542.4" y="557.2" font-size="13" fill="#1a1a1a" font-weight="normal" text-anchor="start" textLength="40.5" lengthAdjust="spacingAndGlyphs">0, 05mm</text>
<line x1="611.0" y1="460.0" x2="611.0" y2="542.0" stroke="#e4e4e4" stroke-width="0.8"/>
<line x1="599.0" y1="464.4" x2="611.0" y2="464.4" stroke="#c9c9c9" stroke-width="0.9"/>
<path d="M599.0 464.4 L604.0 463.2 L604.0 465.6 Z" fill="#c9c9c9" stroke="none"/>
<line x1="599.0" y1="539.0" x2="611.0" y2="539.0" stroke="#c9c9c9" stroke-width="0.9"/>
<path d="M599.0 539.0 L604.0 537.8 L604.0 540.2 Z" fill="#c9c9c9" stroke="none"/>
<text x="589.6" y="460.0" font-size="17.5" fill="#1a1a1a" font-weight="normal" text-anchor="start" textLength="7.0" lengthAdjust="spacingAndGlyphs" stroke="#1a1a1a" stroke-width="0.55">D</text>
<text x="589.6" y="560.0" font-size="17.5" fill="#1a1a1a" font-weight="normal" text-anchor="start" textLength="7.0" lengthAdjust="spacingAndGlyphs" stroke="#1a1a1a" stroke-width="0.55">D</text>
<line x1="637.6" y1="475.0" x2="678.0" y2="475.0" stroke="#3a3a3a" stroke-width="0.9"/>
<line x1="643.0" y1="481.6" x2="678.0" y2="481.6" stroke="#3a3a3a" stroke-width="0.9"/>
<line x1="676.0" y1="468.0" x2="676.0" y2="489.0" stroke="#3a3a3a" stroke-width="0.9"/>
<path d="M676.0 475.0 L675.1 471.5 L676.9 471.5 Z" fill="#3a3a3a" stroke="none"/>
<path d="M676.0 481.6 L675.1 485.1 L676.9 485.1 Z" fill="#3a3a3a" stroke="none"/>
<text x="680.2" y="468.6" font-size="11" fill="#1a1a1a" font-weight="normal" text-anchor="start" textLength="25.3" lengthAdjust="spacingAndGlyphs" transform="rotate(-90 680.2 468.6)">1,75</text>
<line x1="653.6" y1="481.6" x2="653.6" y2="517.4" stroke="#3a3a3a" stroke-width="0.9"/>
<path d="M653.6 481.6 L652.5 486.1 L654.7 486.1 Z" fill="#3a3a3a" stroke="none"/>
<path d="M653.6 517.4 L652.5 512.9 L654.7 512.9 Z" fill="#3a3a3a" stroke="none"/>
<text x="658.0" y="559.6" font-size="11" fill="#1a1a1a" font-weight="normal" text-anchor="start" textLength="15.5" lengthAdjust="spacingAndGlyphs" transform="rotate(-90 658.0 559.6)">9,6</text>
<text x="653.2" y="541.5" font-size="6.3" fill="#1a1a1a" font-weight="normal" text-anchor="start" textLength="14.0" lengthAdjust="spacingAndGlyphs" transform="rotate(-90 653.2 541.5)">0,00</text>
<text x="658.8" y="542.5" font-size="6.3" fill="#1a1a1a" font-weight="normal" text-anchor="start" textLength="16.0" lengthAdjust="spacingAndGlyphs" transform="rotate(-90 658.8 542.5)">-0,03</text>
<rect x="470.4" y="628.4" width="178.0" height="29.0" rx="0" fill="none" stroke="#555" stroke-width="0.9"/>
<rect x="475.5" y="633.7" width="167.3" height="17.9" rx="1" fill="none" stroke="#555" stroke-width="0.9"/>
<line x1="487.2" y1="633.7" x2="487.2" y2="651.6" stroke="#606060" stroke-width="0.9"/>
<line x1="511.5" y1="633.7" x2="511.5" y2="651.6" stroke="#606060" stroke-width="0.9"/>
<line x1="517.3" y1="633.7" x2="517.3" y2="651.6" stroke="#606060" stroke-width="0.9"/>
<line x1="541.6" y1="633.7" x2="541.6" y2="651.6" stroke="#606060" stroke-width="0.9"/>
<line x1="547.2" y1="633.7" x2="547.2" y2="651.6" stroke="#606060" stroke-width="0.9"/>
<line x1="571.6" y1="633.7" x2="571.6" y2="651.6" stroke="#606060" stroke-width="0.9"/>
<line x1="577.7" y1="633.7" x2="577.7" y2="651.6" stroke="#606060" stroke-width="0.9"/>
<line x1="600.4" y1="633.7" x2="600.4" y2="651.6" stroke="#606060" stroke-width="0.9"/>
<line x1="607.6" y1="633.7" x2="607.6" y2="651.6" stroke="#606060" stroke-width="0.9"/>
<line x1="630.5" y1="633.7" x2="630.5" y2="651.6" stroke="#606060" stroke-width="0.9"/>
<circle cx="499.7" cy="642.8" r="5.9" fill="none" stroke="#3a3a3a" stroke-width="0.9"/>
<circle cx="499.7" cy="642.8" r="2.9" fill="none" stroke="#3a3a3a" stroke-width="1.1"/>
<circle cx="529.5" cy="642.8" r="5.9" fill="none" stroke="#3a3a3a" stroke-width="0.9"/>
<circle cx="529.5" cy="642.8" r="2.9" fill="none" stroke="#3a3a3a" stroke-width="1.1"/>
<circle cx="559.3" cy="642.8" r="5.9" fill="none" stroke="#3a3a3a" stroke-width="0.9"/>
<circle cx="559.3" cy="642.8" r="2.9" fill="none" stroke="#3a3a3a" stroke-width="1.1"/>
<circle cx="589.1" cy="642.8" r="5.9" fill="none" stroke="#3a3a3a" stroke-width="0.9"/>
<circle cx="589.1" cy="642.8" r="2.9" fill="none" stroke="#3a3a3a" stroke-width="1.1"/>
<circle cx="618.9" cy="642.8" r="5.9" fill="none" stroke="#3a3a3a" stroke-width="0.9"/>
<circle cx="618.9" cy="642.8" r="2.9" fill="none" stroke="#3a3a3a" stroke-width="1.1"/>
<text x="484.3" y="648.4" font-size="4" fill="#444" font-weight="normal" text-anchor="start" textLength="10.0" lengthAdjust="spacingAndGlyphs" transform="rotate(-90 484.3 648.4)">1310</text>
<text x="635.0" y="649.0" font-size="4.5" fill="#444" font-weight="normal" text-anchor="start" textLength="8.0" lengthAdjust="spacingAndGlyphs" transform="rotate(-90 635.0 649.0)">20Y</text>
<text x="641.0" y="649.0" font-size="4.5" fill="#444" font-weight="normal" text-anchor="start" textLength="8.0" lengthAdjust="spacingAndGlyphs" transform="rotate(-90 641.0 649.0)">8-1</text>
<line x1="607.6" y1="634.0" x2="629.5" y2="652.0" stroke="#222" stroke-width="1.1"/>
<text x="626.7" y="654.6" font-size="12" fill="#aaa" font-weight="normal" text-anchor="start" textLength="7.0" lengthAdjust="spacingAndGlyphs" transform="rotate(35 626.7 654.6)">∅</text>
<text x="632.0" y="657.6" font-size="10.5" fill="#1a1a1a" font-weight="normal" text-anchor="start" textLength="27.0" lengthAdjust="spacingAndGlyphs" transform="rotate(35 632.0 657.6)">3,12</text>
<text x="660.0" y="672.3" font-size="6.3" fill="#1a1a1a" font-weight="normal" text-anchor="start" textLength="14.0" lengthAdjust="spacingAndGlyphs" transform="rotate(35 660.0 672.3)">0,00</text>
<text x="652.5" y="675.4" font-size="6.3" fill="#1a1a1a" font-weight="normal" text-anchor="start" textLength="16.5" lengthAdjust="spacingAndGlyphs" transform="rotate(36 652.5 675.4)">-0,10</text>
</svg>
</body></html>
